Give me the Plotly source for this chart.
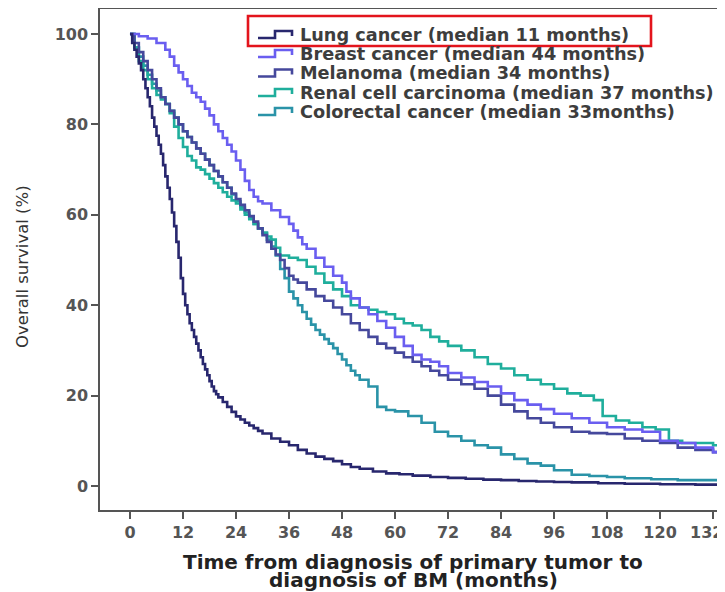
import plotly.graph_objects as go

# ---------------- data ----------------
series_names = [
    "Lung cancer (median 11 months)",
    "Breast cancer (median 44 months)",
    "Melanoma (median 34 months)",
    "Renal cell carcinoma (median 37 months)",
    "Colorectal cancer (median 33months)",
]
series_colors = ["#28276e", "#6a5ef0", "#45489c", "#1fae9c", "#2a93a8"]

lung_t = [0, 0.5, 1, 1.5, 2, 2.5, 3, 3.5, 4, 4.5, 5, 5.5, 6, 6.5, 7, 7.5, 8, 8.5, 9, 9.5, 10, 10.5, 11,
          11.5, 12, 12.5, 13, 13.5, 14, 14.5, 15, 15.5, 16, 16.5, 17, 17.5, 18, 18.5, 19, 19.5, 20, 21, 22,
          23, 24, 25, 26, 27, 28, 29, 30, 32, 34, 36, 38, 40, 42, 44, 46, 48, 50, 52, 55, 58, 61, 64, 68,
          72, 76, 80, 84, 88, 92, 96, 100, 106, 112, 120, 128, 137]
lung_s = [100, 98, 96.5, 95, 93.5, 92, 90, 88, 86, 84, 81.5, 79.5, 77.5, 75.5, 73.5, 71, 68.5, 66, 63.5,
          60.5, 57.5, 54, 50.5, 46, 42.5, 40, 38, 36, 34.5, 33, 31.5, 30, 28.5, 27, 25.8, 24.5, 23.2, 22,
          21, 20.3, 19.6, 18.6, 17.5, 16.4, 15.4, 14.7, 14, 13.4, 12.8, 12.2, 11.6, 10.5, 9.8, 9, 8, 7.2,
          6.5, 6, 5.5, 4.8, 4.2, 3.8, 3.2, 2.8, 2.6, 2.3, 2, 1.8, 1.6, 1.4, 1.3, 1.1, 1, 0.9, 0.8, 0.6,
          0.5, 0.4, 0.3, 0.3]

breast_t = [0, 2, 4, 6, 8, 9, 10, 11, 12, 13, 14, 15, 16, 17, 18, 19, 20, 21, 22, 23, 24, 25, 26, 27, 28,
            29, 30, 32, 34, 36, 37, 38, 39, 40, 42, 44, 46, 48, 49, 50, 52, 54, 56, 58, 60, 62, 64, 66,
            68, 70, 72, 75, 78, 81, 84, 87, 90, 93, 96, 100, 104, 108, 112, 116, 120, 124, 128, 132, 137]
breast_s = [100, 99.5, 99, 98, 96.5, 95, 93, 91.5, 90, 88.5, 87, 86, 85, 83.5, 82, 80, 78.5, 77, 75.5,
            74, 72, 70, 67.5, 65.5, 64, 63, 62.5, 61, 59.5, 58, 56.5, 55, 53.5, 52.5, 50.5, 48.5, 46.5,
            45, 43, 41.5, 39.5, 38, 36.5, 35, 33, 31, 29, 28, 27.5, 26.5, 25, 24, 23, 22, 20.5, 19, 18,
            17, 16, 15, 14, 13, 12.5, 12, 10, 9.5, 8.5, 7.5, 7]

melanoma_t = [0, 1, 2, 3, 4, 5, 6, 7, 8, 9, 10, 11, 12, 13, 14, 15, 16, 17, 18, 19, 20, 21, 22, 23, 24,
              25, 26, 27, 28, 29, 30, 31, 32, 33, 34, 35, 36, 37, 38, 40, 42, 44, 46, 48, 50, 52, 54, 56,
              58, 60, 62, 64, 66, 68, 70, 72, 75, 78, 81, 84, 87, 90, 93, 96, 100, 104, 108, 112, 116,
              120, 124, 128, 132, 137]
melanoma_s = [100, 98, 96, 94, 92, 90, 88, 86, 84.5, 83, 81.5, 80, 78.5, 77.2, 76, 74.7, 73.5, 72.2, 71,
              69.7, 68.5, 67.2, 66, 64.7, 63.5, 62.2, 61, 59.7, 58.5, 57, 55.5, 54, 52.5, 51.2, 50, 48.2,
              46.5, 45.7, 45, 43.5, 42, 41, 39.5, 38, 36, 34.5, 33, 31.5, 30.5, 29.5, 28.5, 27.5, 26.5,
              25.5, 24.5, 23.5, 22.5, 21.5, 20, 18, 16.5, 15, 14, 13, 12, 11.7, 11.5, 10.5, 10, 9.5, 8.5,
              8, 7.5, 6.5]

renal_t = [0, 1, 2, 3, 4, 5, 6, 7, 8, 9, 10, 11, 12, 13, 14, 15, 16, 17, 18, 19, 20, 21, 22, 23, 24, 25,
           26, 27, 28, 29, 30, 31, 32, 33, 34, 36, 38, 40, 42, 44, 46, 48, 50, 52, 54, 56, 58, 60, 62, 64,
           66, 68, 70, 72, 75, 78, 81, 84, 87, 90, 93, 96, 99, 102, 105, 107, 110, 113, 116, 119, 122,
           125, 128, 132, 137]
renal_s = [100, 97, 94, 92, 90, 88, 86.5, 85.5, 84.5, 82.5, 79.5, 77, 75, 73, 72, 70.5, 70, 69, 68, 67,
           66, 65, 64, 63.2, 62.5, 61.2, 60, 59, 58, 57, 56, 55.2, 54.5, 52.7, 51, 50.5, 50, 48.5, 47, 45,
           43.5, 42, 40, 39.5, 39, 38.5, 38, 37, 36, 35.5, 34.5, 33, 32, 31, 30, 28.5, 27, 26, 24.5,
           23.5, 22.5, 21.5, 20.5, 20, 19, 15.5, 14.5, 14, 13, 12.5, 10, 9.5, 9.5, 9, 9]

colorectal_t = [0, 1, 2, 3, 4, 5, 6, 7, 8, 9, 10, 11, 12, 13, 14, 15, 16, 17, 18, 19, 20, 21, 22, 23, 24,
                25, 26, 27, 28, 29, 30, 31, 32, 33, 34, 35, 36, 37, 38, 39, 40, 41, 42, 43, 44, 45, 46,
                47, 48, 49, 50, 51, 52, 54, 56, 58, 60, 63, 66, 69, 72, 75, 78, 81, 84, 87, 90, 93, 96,
                100, 104, 108, 112, 118, 124, 130, 137]
colorectal_s = [100, 97, 95, 93, 91, 89, 87.5, 86, 84.5, 83, 81.5, 80, 78.5, 77.2, 76, 74.7, 73.5, 72.2,
                71, 69.7, 68.5, 67.2, 66, 64.5, 63, 61.7, 60.5, 59.2, 58, 57, 56, 54.5, 53, 51, 48, 46,
                43, 41.5, 40, 38.5, 37, 35.7, 34.5, 33.5, 32.5, 31.5, 30.5, 29.2, 28, 26.7, 25.5, 24.5,
                23.5, 22, 17.5, 16.8, 16.5, 15.5, 14, 12, 11, 10, 9, 8.5, 7, 6, 5, 4.5, 3.5, 2.5, 2.2,
                2, 1.7, 1.5, 1.3, 1.3, 1.3]

x_ticks = [0, 12, 24, 36, 48, 60, 72, 84, 96, 108, 120, 132]
x_tick_labels = ["0", "12", "24", "36", "48", "60", "72", "84", "96", "108", "120", "132"]
y_ticks = [0, 20, 40, 60, 80, 100]

series_t = [lung_t, breast_t, melanoma_t, renal_t, colorectal_t]
series_s = [lung_s, breast_s, melanoma_s, renal_s, colorectal_s]

# ---------------- figure ----------------
# The page body has an 8px margin, so the figure is 8px smaller than the window
OFF = 8
W, H = 725 - OFF, 592 - OFF
ML, MR, MT, MB = 92, 0, 1, 82
PW, PH = W - ML - MR, H - MT - MB


def px(xp):
    """window pixel x -> paper coordinate"""
    return (xp - OFF - ML) / PW


def py(yp):
    """window pixel y -> paper coordinate"""
    return (H - MB - (yp - OFF)) / PH


fig = go.Figure()
# draw in reverse so lung cancer ends up on top
for name, t, s, c in reversed(list(zip(series_names, series_t, series_s, series_colors))):
    fig.add_trace(go.Scatter(x=t, y=s, mode="lines", name=name,
                             line=dict(color=c, width=2.6, shape="hv"),
                             showlegend=False))

tick_font = dict(family="DejaVu Sans", size=16, color="#555555", weight="bold")
# the last tick label sits at the window edge; it is drawn right-aligned as an annotation instead
axis_tick_text = x_tick_labels[:-1] + [""]
fig.update_xaxes(range=[-6.79, 134.7], tickvals=x_ticks, ticktext=axis_tick_text, ticks="outside",
                 ticklen=7, tickwidth=1.5,
                 tickcolor="#555555", showline=True, linecolor="#555555", linewidth=1.5, mirror=True,
                 showgrid=False, zeroline=False, tickfont=tick_font, automargin=False,
                 ticklabeloverflow="allow")
fig.update_yaxes(range=[-5.31, 105.53], tickvals=y_ticks, ticks="outside", ticklen=7, tickwidth=1.5,
                 tickcolor="#555555", showline=True, linecolor="#555555", linewidth=1.5,
                 showgrid=False, zeroline=False, tickfont=tick_font, automargin=False,
                 ticklabeloverflow="allow")

annotations = []
shapes = []

annotations.append(dict(text=x_tick_labels[-1], x=1.0, y=py(532), xref="paper", yref="paper",
                        xanchor="right", yanchor="middle", showarrow=False, font=tick_font))

# manual legend with step-shaped keys
row_y = [35, 54, 73.5, 93, 112]
for name, c, yy in zip(series_names, series_colors, row_y):
    path = (f"M {px(258)},{py(yy + 3)} L {px(275)},{py(yy + 3)} L {px(275)},{py(yy - 4)} "
            f"L {px(292)},{py(yy - 4)} L {px(292)},{py(yy + 1)}")
    shapes.append(dict(type="path", path=path, xref="paper", yref="paper",
                       line=dict(color=c, width=2.6)))
    annotations.append(dict(text=name, x=px(298), y=py(yy), xref="paper", yref="paper",
                            xanchor="left", yanchor="middle", showarrow=False,
                            font=dict(family="DejaVu Sans", size=17.7, color="#3d3d3d", weight="bold")))

# red highlight box around the first legend entry
shapes.append(dict(type="rect", xref="paper", yref="paper", x0=px(248), x1=px(651), y0=py(46), y1=py(16),
                   line=dict(color="#e3141c", width=2.6)))

# axis titles
annotations.append(dict(text="Overall survival (%)", x=px(22), y=py(267), xref="paper", yref="paper",
                        textangle=-90, showarrow=False, xanchor="center", yanchor="middle",
                        font=dict(family="DejaVu Sans", size=16.5, color="#333333")))
annotations.append(dict(text="Time from diagnosis of primary tumor to", x=px(413), y=py(562),
                        xref="paper", yref="paper", showarrow=False, xanchor="center", yanchor="middle",
                        font=dict(family="DejaVu Sans", size=20, color="#222222", weight="bold")))
annotations.append(dict(text="diagnosis of BM (months)", x=px(413), y=py(580),
                        xref="paper", yref="paper", showarrow=False, xanchor="center", yanchor="middle",
                        font=dict(family="DejaVu Sans", size=20, color="#222222", weight="bold")))

fig.update_layout(width=W, height=H, margin=dict(l=ML, r=MR, t=MT, b=MB, autoexpand=False),
                  plot_bgcolor="white", paper_bgcolor="white",
                  annotations=annotations, shapes=shapes, showlegend=False)

fig.write_html("out.html")
